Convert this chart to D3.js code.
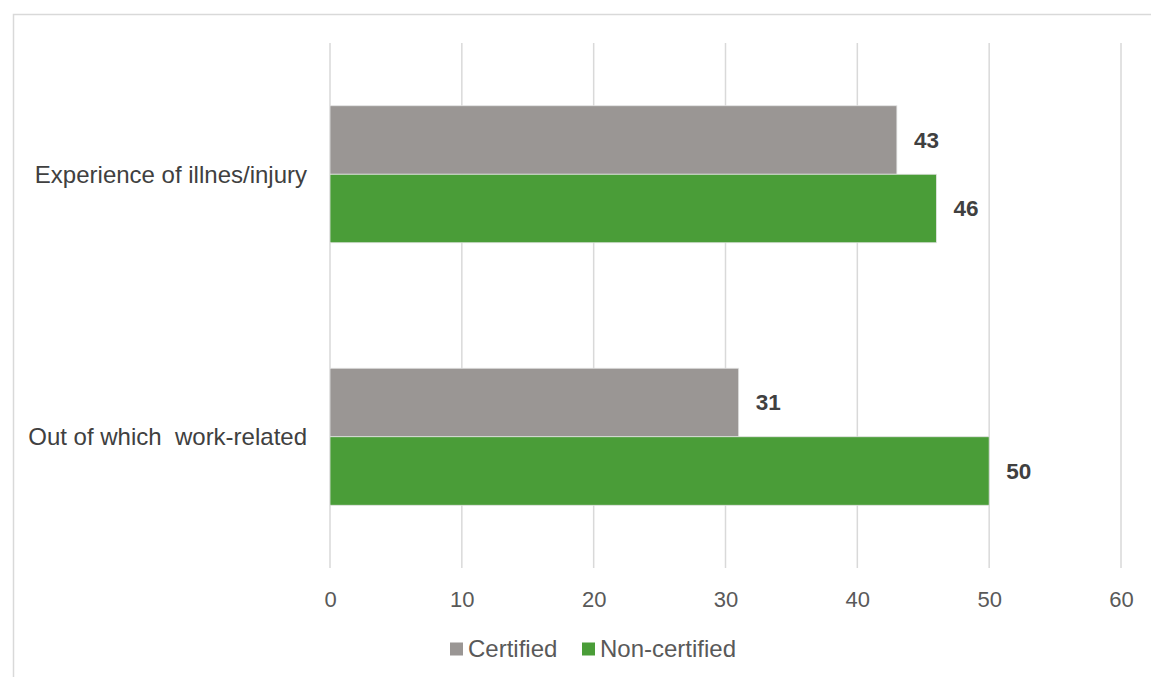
<!DOCTYPE html>
<html>
<head>
<meta charset="utf-8">
<script src="https://cdn.jsdelivr.net/npm/d3@7"></script>
<style>
  html, body { margin: 0; padding: 0; background: #fff; }
  svg { display: block; font-family: "Liberation Sans", Arial, sans-serif; }
  text { white-space: pre; }
</style>
</head>
<body>
<svg id="chart" width="1151" height="677"></svg>
<script>
// Share of respondents reporting illness/injury, by certification status
const categories = ["Experience of illnes/injury", "Out of which  work-related"];
const seriesNames = ["Certified", "Non-certified"];
const certified = [43, 31];
const nonCertified = [46, 50];
const xTicks = [0, 10, 20, 30, 40, 50, 60];

const colors = { "Certified": "#9A9694", "Non-certified": "#4A9D38" };

const svg = d3.select("#chart");
const W = 1151, H = 677;

// outer frame
svg.append("rect")
  .attr("x", 13.5).attr("y", 14.5)
  .attr("width", W + 20).attr("height", H + 20)
  .attr("fill", "none").attr("stroke", "#D9D9D9").attr("stroke-width", 1.5);

const plot = { left: 330, right: 1121, top: 43, bottom: 568 };

const x = d3.scaleLinear().domain([0, 60]).range([plot.left, plot.right]);
const y = d3.scaleBand().domain(categories).range([plot.top, plot.bottom])
  .paddingInner(0.478).paddingOuter(0.239);
const ySub = d3.scaleBand().domain(seriesNames).range([0, y.bandwidth()]);

// vertical gridlines
svg.append("g")
  .selectAll("line")
  .data(xTicks)
  .join("line")
  .attr("x1", d => x(d)).attr("x2", d => x(d))
  .attr("y1", plot.top).attr("y2", plot.bottom)
  .attr("stroke", "#D9D9D9").attr("stroke-width", 1.5);

// x axis labels
const xAxis = d3.axisBottom(x).tickValues(xTicks).tickSize(0).tickPadding(0);
const gx = svg.append("g").attr("transform", `translate(0,${plot.bottom + 39})`).call(xAxis);
gx.select(".domain").remove();
gx.selectAll("text")
  .attr("dy", 0)
  .attr("font-family", "Liberation Sans, Arial, sans-serif")
  .attr("font-size", 22).attr("fill", "#595959");

// category labels
svg.append("g")
  .selectAll("text")
  .data(categories)
  .join("text")
  .attr("x", 307)
  .attr("y", d => y(d) + y.bandwidth() / 2)
  .attr("dy", "0.35em")
  .attr("text-anchor", "end")
  .attr("font-size", 24)
  .attr("fill", "#404040")
  .text(d => d);

const rows = categories.map((c, i) => ({
  category: c,
  values: [
    { series: "Certified", value: certified[i] },
    { series: "Non-certified", value: nonCertified[i] }
  ]
}));

const groups = svg.append("g")
  .selectAll("g")
  .data(rows)
  .join("g")
  .attr("transform", d => `translate(0,${y(d.category)})`);

groups.selectAll("rect")
  .data(d => d.values)
  .join("rect")
  .attr("x", x(0))
  .attr("y", d => ySub(d.series))
  .attr("width", d => x(d.value) - x(0))
  .attr("height", ySub.bandwidth())
  .attr("fill", d => colors[d.series])
  .attr("stroke", "#E4E4E4").attr("stroke-width", 0.8);

groups.selectAll("text")
  .data(d => d.values)
  .join("text")
  .attr("x", d => x(d.value) + 17)
  .attr("y", d => ySub(d.series) + ySub.bandwidth() / 2)
  .attr("dy", "0.35em")
  .attr("font-size", 22.5)
  .attr("font-weight", "bold")
  .attr("fill", "#404040")
  .text(d => d.value);

// legend
const legendItems = [
  { name: "Certified", x: 450 },
  { name: "Non-certified", x: 582 }
];
const legend = svg.append("g").attr("transform", "translate(0,649)");
const li = legend.selectAll("g").data(legendItems).join("g")
  .attr("transform", d => `translate(${d.x},0)`);
li.append("rect")
  .attr("x", 0).attr("y", -6.5).attr("width", 13).attr("height", 13)
  .attr("fill", d => colors[d.name]);
li.append("text")
  .attr("x", 18).attr("y", 0).attr("dy", "0.35em")
  .attr("font-size", 24).attr("fill", "#595959")
  .text(d => d.name);
</script>
</body>
</html>
